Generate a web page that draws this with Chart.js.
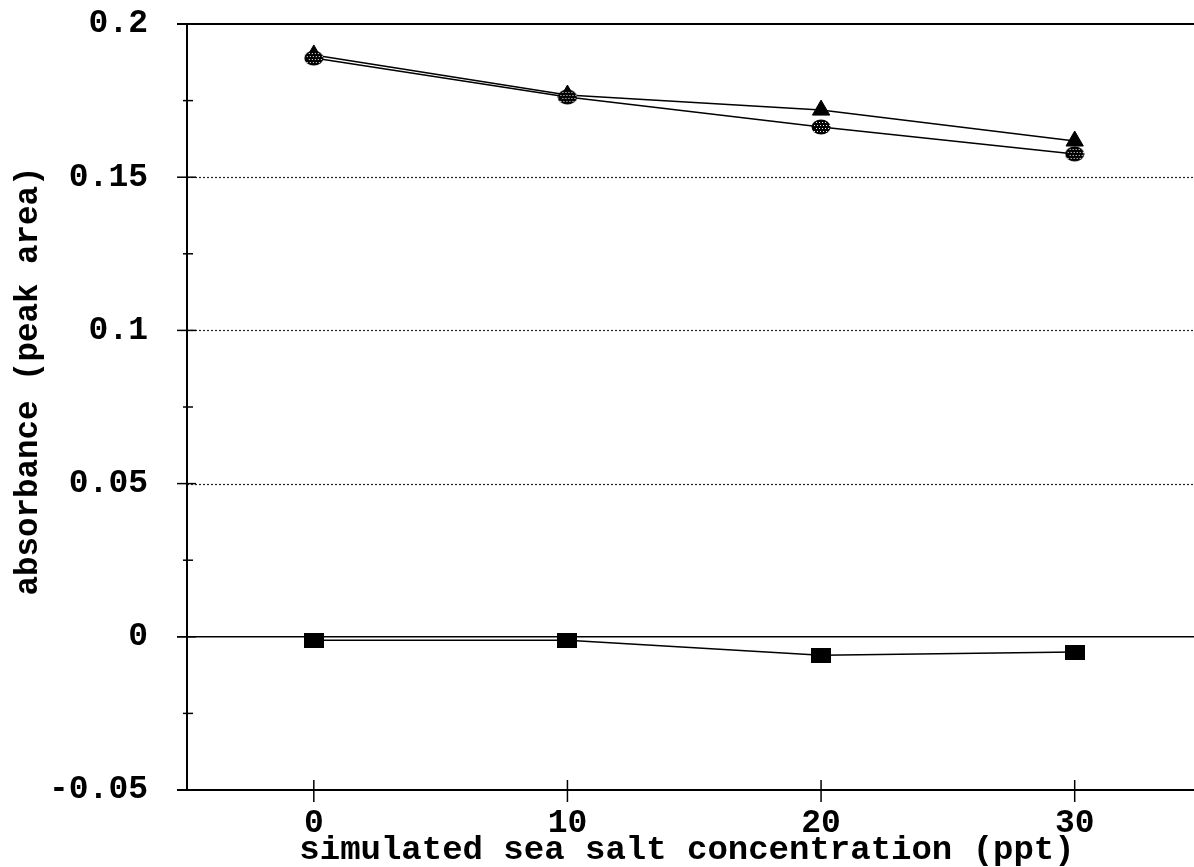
<!DOCTYPE html>
<html>
<head>
<meta charset="utf-8">
<script src="https://cdn.jsdelivr.net/npm/chart.js@4.4.1/dist/chart.umd.min.js"></script>
<style>
  html, body { margin: 0; padding: 0; background: #fff; overflow: hidden; }
  canvas { display: block; }
</style>
</head>
<body>
<canvas id="c" width="1213" height="867"></canvas>
<script>
// Absorbance vs. simulated sea salt concentration
const concentrations = [0, 10, 20, 30];
const triangleSeries = [0.1899, 0.1768, 0.1719, 0.1618];
const circleSeries   = [0.1889, 0.1762, 0.1664, 0.1576];
const squareSeries   = [-0.0011, -0.0011, -0.0060, -0.0050];

const xTickValues = [0, 10, 20, 30];
const yTickValues = [-0.05, 0, 0.05, 0.1, 0.15, 0.2];
const yTickLabels = ['-0.05', '0', '0.05', '0.1', '0.15', '0.2'];
const yMinorTicks = [-0.025, 0.025, 0.075, 0.125, 0.175];
const dottedGridValues = [0.05, 0.1, 0.15];

const xTitle = 'simulated sea salt concentration (ppt)';
const yTitle = 'absorbance (peak area)';

const FONT_FAMILY = '"Liberation Mono", "DejaVu Sans Mono", monospace';

// Stippled ellipse marker
function makeStippledEllipse() {
  const w = 20, h = 16;
  const cv = document.createElement('canvas');
  cv.width = w; cv.height = h;
  const g = cv.getContext('2d');
  g.save();
  g.beginPath();
  g.ellipse(w / 2, h / 2, w / 2 - 0.5, h / 2 - 0.5, 0, 0, Math.PI * 2);
  g.fillStyle = '#000';
  g.fill();
  g.clip();
  g.fillStyle = '#fff';
  for (let yy = 3; yy < h - 1; yy += 3) {
    for (let xx = (yy % 6 === 0 ? 3 : 4.5); xx < w - 1; xx += 3) {
      g.fillRect(Math.round(xx), yy, 1, 1);
    }
  }
  g.restore();
  return cv;
}

// Filled rectangular marker
function makeBlockMarker() {
  const w = 20, h = 15;
  const cv = document.createElement('canvas');
  cv.width = w; cv.height = h;
  const g = cv.getContext('2d');
  g.fillStyle = '#000';
  g.fillRect(0, 0, w, h);
  return cv;
}

const toPoints = (ys) => concentrations.map((x, i) => ({ x, y: ys[i] }));

// Axes frame, ticks and gridlines
const framePlugin = {
  id: 'frame',
  beforeDatasetsDraw(chart) {
    const { ctx, chartArea, scales } = chart;
    const xs = scales.x, ys = scales.y;
    const L = chartArea.left, R = chartArea.right;
    const top = ys.getPixelForValue(0.2);
    const bottom = ys.getPixelForValue(-0.05);
    ctx.save();

    // dotted gridlines
    ctx.strokeStyle = '#222';
    ctx.lineWidth = 1.2;
    ctx.setLineDash([2, 2]);
    dottedGridValues.forEach(v => {
      const py = Math.round(ys.getPixelForValue(v)) + 0.5;
      ctx.beginPath();
      ctx.moveTo(L, py);
      ctx.lineTo(R, py);
      ctx.stroke();
    });
    ctx.setLineDash([]);

    // zero line
    ctx.strokeStyle = '#000';
    ctx.lineWidth = 1.5;
    const pz = ys.getPixelForValue(0);
    ctx.beginPath();
    ctx.moveTo(L - 10, pz);
    ctx.lineTo(R, pz);
    ctx.stroke();

    // top and bottom lines
    ctx.lineWidth = 2;
    ctx.beginPath();
    ctx.moveTo(L - 10, top);
    ctx.lineTo(R, top);
    ctx.moveTo(L - 10, bottom);
    ctx.lineTo(R, bottom);
    ctx.stroke();

    // y axis line
    ctx.beginPath();
    ctx.moveTo(L, top);
    ctx.lineTo(L, bottom);
    ctx.stroke();

    // y major ticks
    ctx.lineWidth = 1.5;
    yTickValues.forEach(v => {
      const py = ys.getPixelForValue(v);
      ctx.beginPath();
      ctx.moveTo(L - 10, py);
      ctx.lineTo(L + 9, py);
      ctx.stroke();
    });
    // y minor ticks
    yMinorTicks.forEach(v => {
      const py = ys.getPixelForValue(v);
      ctx.beginPath();
      ctx.moveTo(L - 4, py);
      ctx.lineTo(L + 6, py);
      ctx.stroke();
    });
    // x major ticks
    xTickValues.forEach(v => {
      const px = xs.getPixelForValue(v);
      ctx.beginPath();
      ctx.moveTo(px, bottom - 10);
      ctx.lineTo(px, bottom + 12);
      ctx.stroke();
    });
    ctx.restore();
  },
  afterDraw(chart) {
    const { ctx } = chart;
    ctx.save();
    ctx.fillStyle = '#000';
    ctx.font = 'bold 34px ' + FONT_FAMILY;
    ctx.textAlign = 'center';
    ctx.textBaseline = 'alphabetic';
    ctx.fillText(xTitle, 687, 859);

    ctx.font = 'bold 32.5px ' + FONT_FAMILY;
    ctx.translate(37, 381);
    ctx.rotate(-Math.PI / 2);
    ctx.fillText(yTitle, 0, 0);
    ctx.restore();
  }
};

const stipple = makeStippledEllipse();
const block = makeBlockMarker();

new Chart(document.getElementById('c'), {
  type: 'scatter',
  data: {
    datasets: [
      {
        label: 'circle',
        data: toPoints(circleSeries),
        showLine: true,
        borderColor: '#000',
        borderWidth: 1.5,
        pointStyle: stipple,
        pointRadius: 9,
        backgroundColor: '#000'
      },
      {
        label: 'triangle',
        data: toPoints(triangleSeries),
        showLine: true,
        borderColor: '#000',
        borderWidth: 1.5,
        pointStyle: 'triangle',
        pointRadius: 10,
        pointBackgroundColor: '#000',
        pointBorderColor: '#000',
        pointBorderWidth: 1
      },
      {
        label: 'square',
        data: toPoints(squareSeries),
        showLine: true,
        borderColor: '#000',
        borderWidth: 1.5,
        pointStyle: block,
        pointRadius: 10,
        backgroundColor: '#000'
      }
    ]
  },
  options: {
    responsive: false,
    animation: false,
    devicePixelRatio: 1,
    layout: { padding: { top: 24, right: 1, left: 0, bottom: 0 } },
    plugins: {
      legend: { display: false },
      tooltip: { enabled: false },
      title: { display: false }
    },
    scales: {
      x: {
        type: 'linear',
        min: -5,
        max: 35,
        grid: { display: false, drawTicks: false },
        border: { display: false },
        afterBuildTicks(scale) { scale.ticks = xTickValues.map(v => ({ value: v })); },
        afterFit(scale) {
          scale.height = 77;
          scale.paddingLeft = 0;
          scale.paddingRight = 0;
        },
        ticks: {
          color: '#000',
          padding: 14,
          maxRotation: 0,
          font: { family: FONT_FAMILY, size: 33, weight: 'bold' },
          callback: (v) => String(v)
        }
      },
      y: {
        type: 'linear',
        min: -0.05,
        max: 0.2,
        grid: { display: false, drawTicks: false },
        border: { display: false },
        afterBuildTicks(scale) { scale.ticks = yTickValues.map(v => ({ value: v })); },
        afterFit(scale) {
          scale.width = 187;
          scale.paddingTop = 0;
          scale.paddingBottom = 0;
        },
        ticks: {
          color: '#000',
          padding: 39,
          font: { family: FONT_FAMILY, size: 33, weight: 'bold' },
          callback: (v, i) => yTickLabels[i]
        }
      }
    }
  },
  plugins: [framePlugin]
});
</script>
</body>
</html>
